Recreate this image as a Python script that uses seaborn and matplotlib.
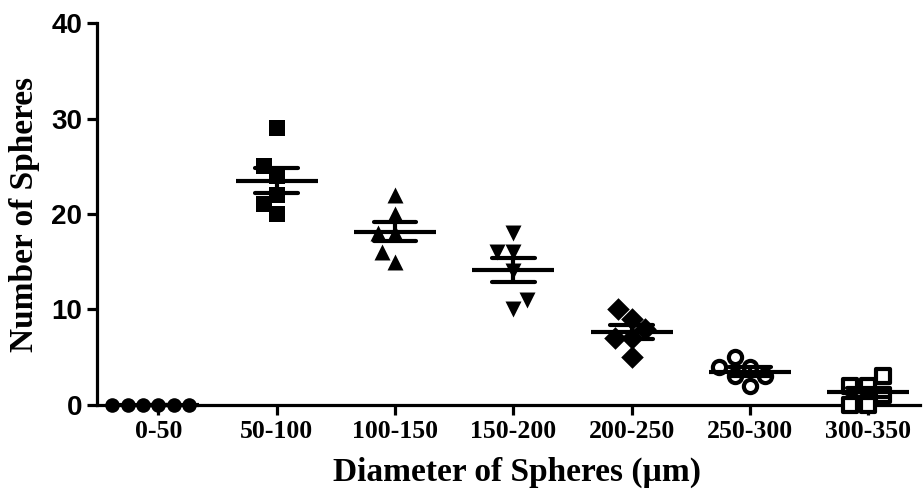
import matplotlib
matplotlib.use("Agg")
import matplotlib.pyplot as plt
import seaborn as sns
import pandas as pd

categories = ["0-50", "50-100", "100-150", "150-200", "200-250", "250-300", "300-350"]
v_0_50 = [0, 0, 0, 0, 0, 0]
v_50_100 = [29, 25, 24, 22, 21, 20]
v_100_150 = [22, 20, 18, 18, 16, 15]
v_150_200 = [18, 16, 16, 14, 11, 10]
v_200_250 = [10, 9, 8, 7, 7, 5]
v_250_300 = [5, 4, 4, 3, 3, 2]
v_300_350 = [3, 2, 2, 1, 0, 0]
all_values = [v_0_50, v_50_100, v_100_150, v_150_200, v_200_250, v_250_300, v_300_350]

xlabel = "Diameter of Spheres (\u00b5m)"
ylabel = "Number of Spheres"
yticks = [0, 10, 20, 30, 40]

rows = []
for c, vals in zip(categories, all_values):
    for v in vals:
        rows.append({"cat": c, "val": v})
df = pd.DataFrame(rows)

sns.set_style("ticks")
plt.rcParams.update({"text.color": "black", "axes.labelcolor": "black",
                     "xtick.color": "black", "ytick.color": "black",
                     "axes.edgecolor": "black"})
fig = plt.figure(figsize=(9.23, 4.96), dpi=100)
ax = fig.add_axes([0.105, 0.1835, 0.892, 0.7701])

styles = [
    ("o", "black", 10.5), ("s", "black", 11), ("^", "black", 11.5), ("v", "black", 11.5),
    ("D", "black", 11.5), ("o", "white", 9.5), ("s", "white", 9.5),
]
for c, (m, fc, sz) in zip(categories, styles):
    sub = df[df["cat"] == c]
    sns.swarmplot(data=sub, x="cat", y="val", order=categories, marker=m,
                  color=fc, edgecolor="black",
                  linewidth=3 if fc == "white" else 0,
                  size=sz, ax=ax, clip_on=False, zorder=4)

sns.pointplot(data=df, x="cat", y="val", order=categories, errorbar="se",
              capsize=0.36, linestyle="none", markers="_", markersize=59,
              markeredgewidth=3, color="black", err_kws={"linewidth": 3},
              ax=ax, zorder=5)
for art in ax.lines + ax.collections:
    art.set_clip_on(False)

ax.set_ylim(0, 40)
ax.set_xlim(-0.52, 6.44)
ax.set_yticks(yticks)
sns.despine(ax=ax)
for s in ["left", "bottom"]:
    ax.spines[s].set_linewidth(2.3)
    ax.spines[s].set_color("black")
ax.tick_params(axis="both", length=7, width=2.3, colors="black")

ax.set_xticks(range(len(categories)))
ax.set_xticklabels(categories, fontfamily="Liberation Serif", fontweight="bold", fontsize=18.5)
for lbl in ax.get_yticklabels():
    lbl.set_fontfamily("Liberation Sans")
    lbl.set_fontweight("bold")
    lbl.set_fontsize(20)

ax.set_xlabel(xlabel, fontfamily="Liberation Serif", fontweight="bold", fontsize=24,
              labelpad=10, color="black")
ax.xaxis.set_label_coords(0.51, -0.135)
ax.set_ylabel(ylabel, fontfamily="Liberation Serif", fontweight="bold", fontsize=24,
              labelpad=8, color="black")

fig.savefig("out.png", dpi=100)
